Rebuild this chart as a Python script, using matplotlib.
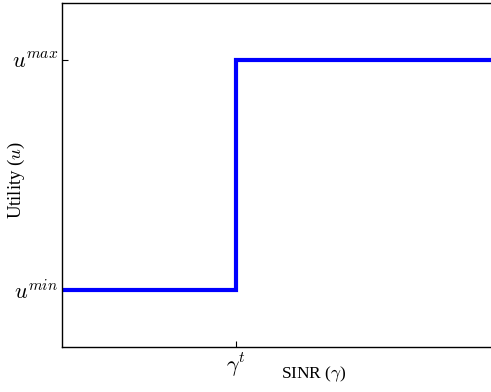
import matplotlib
matplotlib.use("Agg")
import matplotlib.pyplot as plt

# data
x_vals = [0.0, 0.35, 0.35, 1.0]
u_vals = [0.25, 0.25, 1.25, 1.25]
xtick_pos = [0.35]
xtick_labels = [r"$\gamma^t$"]
ytick_pos = [0.25, 1.25]
ytick_labels = [r"$u^{min}$", r"$u^{max}$"]

plt.rcParams["mathtext.fontset"] = "cm"
plt.rcParams["font.family"] = ["Liberation Serif", "DejaVu Serif"]

W, H = 491, 392
fig = plt.figure(figsize=(W / 100, H / 100), dpi=100)
left, right, top, bottom = 62, 560, 3, 347
ax = fig.add_axes([left / W, (H - bottom) / H, (right - left) / W, (bottom - top) / H])

ax.plot(x_vals, u_vals, color="#0000ff", linewidth=3.0, solid_joinstyle="miter")
ax.set_xlim(0, 1)
ax.set_ylim(0, 1.5)
ax.set_xticks(xtick_pos)
ax.set_xticklabels(xtick_labels, fontsize=16)
ax.set_yticks(ytick_pos)
ax.set_yticklabels(ytick_labels, fontsize=16)
ax.tick_params(direction="in", length=4, width=0.8, pad=3)
for s in ax.spines.values():
    s.set_linewidth(1.0)
ax.set_xlabel(r"SINR ($\gamma$)", fontsize=12.5)
ax.set_ylabel(r"Utility ($u$)", fontsize=13.5)
ax.xaxis.set_label_coords((314 - left) / (right - left), -0.052)
ax.yaxis.set_label_coords(-(left - 27) / (right - left), (347 - 180) / 344)

fig.savefig("out.png", dpi=100)
